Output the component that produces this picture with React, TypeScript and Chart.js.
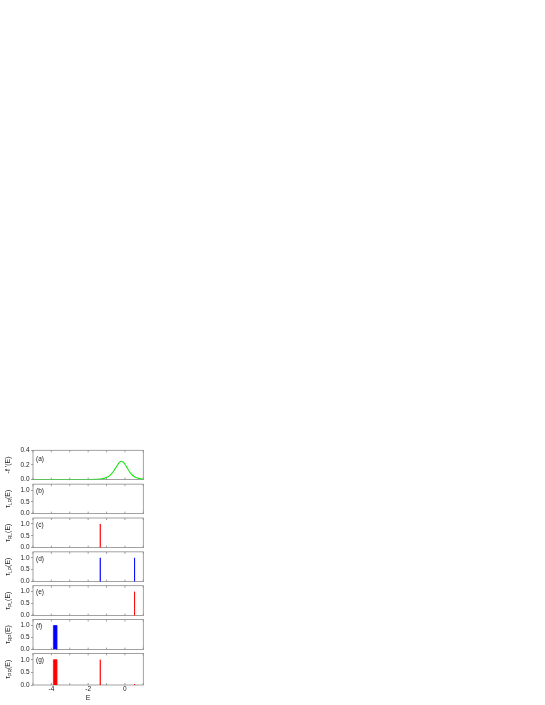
import React, { useEffect, useRef } from "react";
import { Chart, registerables } from "chart.js";
Chart.register(...registerables);

// ---------- data ----------
const xMin = -5;
const xMax = 1;
const xTickValues = [-5, -4, -3, -2, -1, 0, 1];
const xLabelValues = [-4, -2, 0];
const yTicksFermi = [0, 0.2, 0.4];
const yTicksTau = [0, 0.5, 1.0];
const yMaxFermi = 0.4;
const yMaxTau = 1.25;

// panel (a): -f'(E)
const fermiE = [-5, -2.5, -2.0, -1.6, -1.5, -1.4, -1.3, -1.2, -1.1, -1.0, -0.9, -0.8, -0.7, -0.6, -0.5, -0.4, -0.3, -0.2, -0.1, 0.0, 0.1, 0.2, 0.3, 0.4, 0.5, 0.6, 0.7, 0.8, 0.9, 1.0];
const fermiD = [0, 0.0003, 0.0009, 0.003, 0.004, 0.006, 0.009, 0.013, 0.02, 0.029, 0.043, 0.062, 0.088, 0.121, 0.16, 0.2, 0.235, 0.25, 0.24, 0.21, 0.17, 0.128, 0.092, 0.063, 0.043, 0.029, 0.02, 0.013, 0.009, 0.006];

// resonance windows (E from / to)
const peakLo = [-3.89, -1.352, 0.505];
const peakHi = [-3.71, -1.335, 0.535];

// transmission in each window, panels (b)..(g)
const tauLR = [0.008, 0.008, 0.008];
const tauRL = [0.008, 1.0, 0.008];
const tauLP = [0.008, 1.0, 1.0];
const tauPL = [0.008, 0.008, 1.0];
const tauRP = [1.0, 0.008, 0.008];
const tauPR = [1.0, 1.0, 0.04];

const panelLetters = ["(a)", "(b)", "(c)", "(d)", "(e)", "(f)", "(g)"];
const tauSeries = [tauLR, tauRL, tauLP, tauPL, tauRP, tauPR];
const tauSubs = ["LR", "RL", "LP", "PL", "RP", "PR"];
const tauColors = ["#0000ff", "#ff0000", "#0000ff", "#ff0000", "#0000ff", "#ff0000"];
const fermiColor = "#19e619";

// ---------- layout ----------
const FONT = "'Liberation Sans', Arial, Helvetica, sans-serif";
const CANVAS_W = 150;
const PLOT_LEFT = 33;
const PLOT_RIGHT = 143.3;
const TOP0 = 450.3;
const STEP = 33.85;
const PH = 31.6;
const FRAME = "#8a8a8a";
const TEXT = "#222";
const TICK_SIZE = 6.5;
const TITLE_SIZE = 7;
const SUB_SIZE = 5;

function makeFramePlugin(idx: number, isLast: boolean) {
  return {
    id: "frame" + idx,
    beforeDatasetsDraw(chart: any) {
      const { ctx, chartArea } = chart;
      const xs = chart.scales.x;
      ctx.save();
      ctx.strokeStyle = FRAME;
      ctx.lineWidth = 0.8;
      ctx.strokeRect(chartArea.left, chartArea.top, chartArea.right - chartArea.left, chartArea.bottom - chartArea.top);
      ctx.beginPath();
      for (const v of xTickValues) {
        const px = xs.getPixelForValue(v);
        ctx.moveTo(px, chartArea.bottom);
        ctx.lineTo(px, chartArea.bottom - 2);
        ctx.moveTo(px, chartArea.top);
        ctx.lineTo(px, chartArea.top + 2);
      }
      ctx.stroke();
      ctx.restore();
    },
    afterDraw(chart: any) {
      const { ctx, chartArea } = chart;
      ctx.save();
      ctx.fillStyle = TEXT;
      // panel letter
      ctx.font = `${TICK_SIZE}px ${FONT}`;
      ctx.textBaseline = "middle";
      ctx.textAlign = "left";
      ctx.fillText(panelLetters[idx], chartArea.left + 3, chartArea.top + (idx === 0 ? 9 : 7));
      // y title (rotated)
      const cy = (chartArea.top + chartArea.bottom) / 2;
      ctx.translate(8.5, cy);
      ctx.rotate(-Math.PI / 2);
      ctx.textBaseline = "middle";
      ctx.textAlign = "left";
      if (idx === 0) {
        ctx.font = `${TITLE_SIZE}px ${FONT}`;
        const t = "-f '(E)";
        const w = ctx.measureText(t).width;
        ctx.fillText(t, -w / 2, 0);
      } else {
        const main = "τ";
        const sub = tauSubs[idx - 1];
        const tail = "(E)";
        ctx.font = `${TITLE_SIZE}px ${FONT}`;
        const w1 = ctx.measureText(main).width;
        const w3 = ctx.measureText(tail).width;
        ctx.font = `${SUB_SIZE}px ${FONT}`;
        const w2 = ctx.measureText(sub).width;
        let x = -(w1 + w2 + w3) / 2;
        ctx.font = `${TITLE_SIZE}px ${FONT}`;
        ctx.fillText(main, x, 0);
        x += w1;
        ctx.font = `${SUB_SIZE}px ${FONT}`;
        ctx.fillText(sub, x, 2);
        x += w2;
        ctx.font = `${TITLE_SIZE}px ${FONT}`;
        ctx.fillText(tail, x, 0);
      }
      ctx.restore();
      if (isLast) {
        ctx.save();
        ctx.fillStyle = TEXT;
        ctx.font = `${TITLE_SIZE}px ${FONT}`;
        ctx.textAlign = "center";
        ctx.textBaseline = "middle";
        ctx.fillText("E", (chartArea.left + chartArea.right) / 2, chartArea.bottom + 13);
        ctx.restore();
      }
    },
  };
}

function Panel({ idx }: { idx: number }) {
  const ref = useRef<HTMLCanvasElement | null>(null);
  const isLast = idx === 6;
  const top = TOP0 + STEP * idx;
  const T = Math.floor(top) - 8;
  const padTop = top - T;
  const bottomH = isLast ? 18 : 2;
  const H = Math.ceil(padTop + PH + bottomH + 1);
  const padBottom = H - padTop - PH - bottomH;

  useEffect(() => {
    if (!ref.current) return;
    let datasets: any[];
    let yMax: number;
    let yTicks: number[];
    if (idx === 0) {
      yMax = yMaxFermi;
      yTicks = yTicksFermi;
      datasets = [
        {
          data: fermiE.map((e, i) => ({ x: e, y: fermiD[i] })),
          borderColor: fermiColor,
          borderWidth: 1.1,
          pointRadius: 0,
          fill: false,
          cubicInterpolationMode: "monotone",
        },
      ];
    } else {
      yMax = yMaxTau;
      yTicks = yTicksTau;
      const vals = tauSeries[idx - 1];
      const color = tauColors[idx - 1];
      datasets = peakLo.map((lo, k) => ({
        data: [
          { x: lo, y: 0 },
          { x: lo, y: vals[k] },
          { x: peakHi[k], y: vals[k] },
          { x: peakHi[k], y: 0 },
        ],
        borderColor: vals[k] < 0.02 ? color + "55" : color,
        backgroundColor: vals[k] < 0.02 ? color + "55" : color,
        borderWidth: vals[k] < 0.02 ? 0.4 : 0.8,
        pointRadius: 0,
        tension: 0,
        fill: "origin",
      }));
    }
    const chart = new Chart(ref.current, {
      type: "line",
      data: { datasets },
      options: {
        animation: false,
        responsive: false,
        devicePixelRatio: 1,
        events: [],
        layout: { padding: { left: 0, right: CANVAS_W - PLOT_RIGHT, top: padTop, bottom: padBottom } },
        plugins: { legend: { display: false }, tooltip: { enabled: false }, title: { display: false } },
        scales: {
          x: {
            type: "linear",
            min: xMin,
            max: xMax,
            afterBuildTicks: (s: any) => {
              s.ticks = xTickValues.map((v) => ({ value: v }));
            },
            afterFit: (s: any) => {
              s.height = bottomH;
            },
            grid: { display: false, drawTicks: false },
            border: { display: false },
            ticks: {
              display: isLast,
              autoSkip: false,
              maxRotation: 0,
              padding: 0,
              color: TEXT,
              font: { family: FONT, size: TICK_SIZE },
              callback: (v: any) => (xLabelValues.includes(Number(v)) ? String(v) : ""),
            },
          },
          y: {
            type: "linear",
            min: 0,
            max: yMax,
            afterBuildTicks: (s: any) => {
              s.ticks = yTicks.map((v) => ({ value: v }));
            },
            afterFit: (s: any) => {
              s.width = PLOT_LEFT;
            },
            grid: { drawOnChartArea: false, drawTicks: true, tickLength: 2, color: FRAME, lineWidth: 0.8 },
            border: { display: false },
            ticks: {
              padding: 1.5,
              color: TEXT,
              font: { family: FONT, size: TICK_SIZE },
              callback: (v: any) => Number(v).toFixed(1),
            },
          },
        },
      } as any,
      plugins: [makeFramePlugin(idx, isLast)],
    } as any);
    return () => chart.destroy();
  }, []);

  return (
    <canvas
      ref={ref}
      width={CANVAS_W}
      height={H}
      style={{ position: "absolute", left: 0, top: T, width: CANVAS_W, height: H }}
    />
  );
}

export default function App() {
  return (
    <div style={{ position: "absolute", left: 0, top: 0, width: 545, height: 705, background: "#fff" }}>
      {[0, 1, 2, 3, 4, 5, 6].map((i) => (
        <Panel key={i} idx={i} />
      ))}
    </div>
  );
}
